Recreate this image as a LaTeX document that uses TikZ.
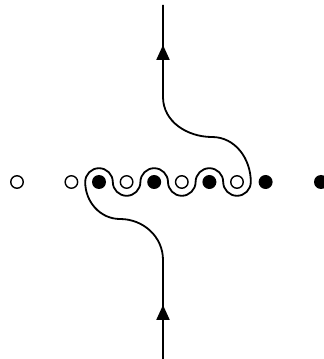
\documentclass[tikz,border=0pt]{standalone}
\usetikzlibrary{arrows.meta}
\begin{document}
\begin{tikzpicture}[x=1pt,y=1pt,
  opendot/.style={circle,draw,line width=1.4pt,inner sep=0pt,minimum size=12.5pt,fill=white},
  fulldot/.style={circle,fill,inner sep=0pt,minimum size=14pt},
  curve/.style={line width=1.8pt},
  tip/.style={fill}]
\useasboundingbox (0,0) rectangle (324,359);
% dots
\node[opendot] (o1) at (17,177) {};
\node[opendot] (o2) at (71.4,177) {};
\node[fulldot] (f1) at (99,177) {};
\node[opendot] (o3) at (126.6,177) {};
\node[fulldot] (f2) at (154.2,177) {};
\node[opendot] (o4) at (181.8,177) {};
\node[fulldot] (f3) at (209.4,177) {};
\node[opendot] (o5) at (237,177) {};
\node[fulldot] (f4) at (265.6,177) {};
\node[fulldot] (f5) at (321,177) {};
% coordinates
\coordinate (bot) at (163,0);
\coordinate (b1) at (163,99);
\coordinate (b2) at (120,140);
\coordinate (left) at (85.2,177);
\coordinate (t2) at (212,222);
\coordinate (t1) at (163,262);
\coordinate (top) at (163,354);
% curve
\draw[curve] (bot) -- (b1) to[out=90,in=0] (b2) to[out=180,in=-90] (left)
  arc[start angle=180,end angle=0,radius=13.8]
  arc[start angle=180,end angle=360,radius=13.8]
  arc[start angle=180,end angle=0,radius=13.8]
  arc[start angle=180,end angle=360,radius=13.8]
  arc[start angle=180,end angle=0,radius=13.8]
  arc[start angle=180,end angle=360,radius=13.8]
  to[out=90,in=0] (t2) to[out=180,in=-90] (t1) -- (top);
% arrowheads
\coordinate (a1) at (163,54);
\coordinate (a2) at (163,314);
\fill[tip] (a1) -- ++(-6.8,-15) -- ++(13.6,0) -- cycle;
\fill[tip] (a2) -- ++(-6.8,-15) -- ++(13.6,0) -- cycle;
\end{tikzpicture}
\end{document}
